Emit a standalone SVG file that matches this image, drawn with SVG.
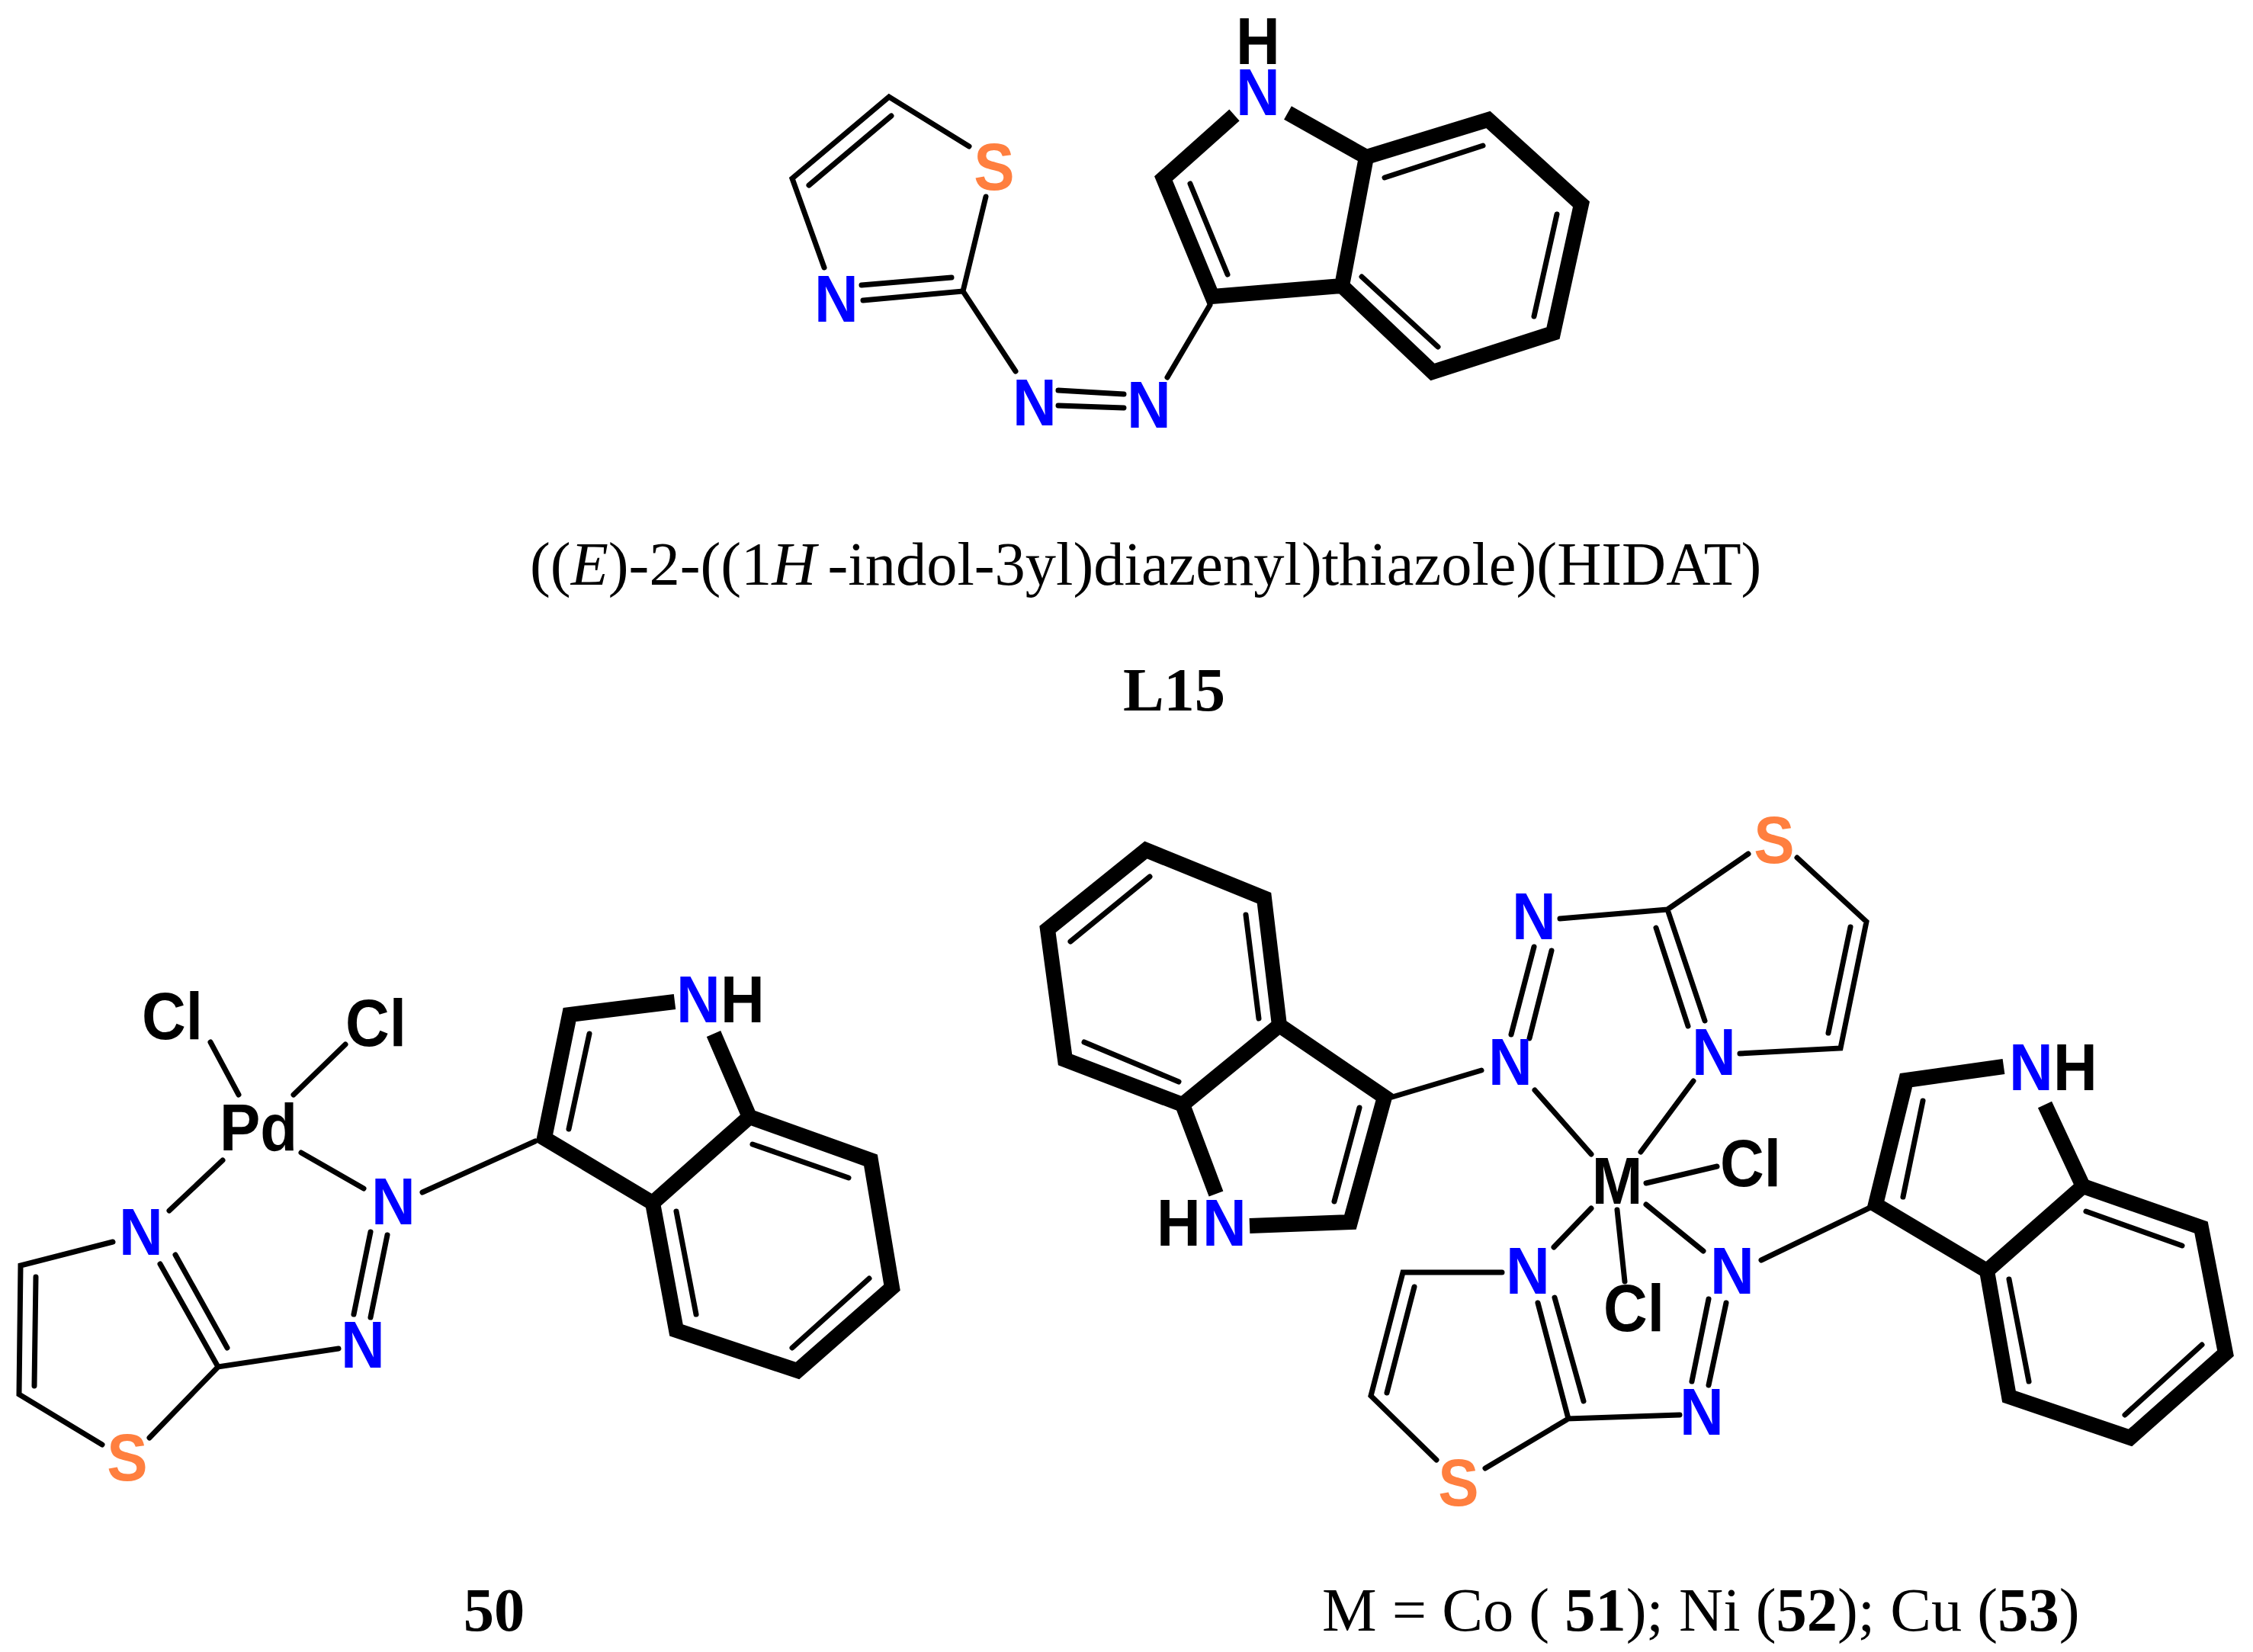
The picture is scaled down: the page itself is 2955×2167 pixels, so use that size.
<svg xmlns="http://www.w3.org/2000/svg" width="2955" height="2167" viewBox="0 0 2955 2167">
<style>
.t{fill:none;stroke:#000;stroke-width:7;stroke-linecap:round;stroke-linejoin:miter}
.k{fill:none;stroke:#000;stroke-width:20;stroke-linecap:butt;stroke-linejoin:miter}
.a{font-family:"Liberation Sans",Arial,sans-serif;font-weight:700;font-size:80px;text-anchor:middle}
.n{fill:#0000ff}.s{fill:#ff7f3f}.b{fill:#000}
.c{font-family:"Liberation Serif","Times New Roman",serif;font-size:80.5px;fill:#000}
.d{font-weight:700}
</style>
<rect width="2955" height="2167" fill="#fff"/>
<g id="molecule-L15">
<path class="t" d="M1271 192L1166 127L1039 234L1081 351M1293 258L1263 382L1132 394M1130 374L1248 364M1061 243L1169 152M1263 382L1332 487M1388 512L1474 517M1388 532L1474 535M1531 495L1587 400M1561 241L1610 360M1816 233L1945 191M2042 281L2012 415M1886 455L1786 363"/>
<path class="k" d="M1619 151L1526 234L1590 389L1760 375L1792 206L1689 148M1792 206L1952 157L2074 268L2037 437L1879 488L1760 375"/>
<text class="a s" transform="translate(1304 249) scale(1 1.08)">S</text>
<text class="a n" transform="translate(1097 422) scale(1 1.08)">N</text>
<text class="a n" transform="translate(1357 558) scale(1 1.08)">N</text>
<text class="a n" transform="translate(1507 561) scale(1 1.08)">N</text>
<text class="a n" transform="translate(1650 151) scale(1 1.08)">N</text>
<text class="a b" transform="translate(1650 84) scale(1 1.08)">H</text>
<text class="c" x="695" y="767">((<tspan font-style="italic">E</tspan>)-2-((1<tspan font-style="italic">H</tspan><tspan dx="15">-indol-3yl)diazenyl)thiazole)(HIDAT)</tspan></text>
<text class="c d" x="1540" y="932" text-anchor="middle">L15</text>
</g>
<g id="molecule-50">
<path class="t" d="M276 1367L313 1436M453 1370L385 1436M292 1522L222 1588M395 1512L477 1559M554 1564L702 1497M486 1616L464 1724M508 1620L486 1728M444 1769L286 1793L210 1658M230 1646L298 1768M286 1793L196 1886M134 1895L25 1829L27 1660L148 1629M45 1818L47 1675M773 1356L746 1481M987 1501L1113 1545M1140 1677L1039 1768M913 1724L887 1589"/>
<path class="k" d="M885 1314L747 1331L714 1493L856 1578L983 1465L936 1356M983 1465L1142 1522L1170 1689L1046 1798L887 1745L856 1578"/>
<text class="a b" transform="translate(226 1363) scale(1 1.08)">Cl</text>
<text class="a b" transform="translate(493 1372) scale(1 1.08)">Cl</text>
<text class="a b" transform="translate(339 1509) scale(1 1.08)">Pd</text>
<text class="a n" transform="translate(185 1646) scale(1 1.08)">N</text>
<text class="a n" transform="translate(516 1606) scale(1 1.08)">N</text>
<text class="a n" transform="translate(476 1794) scale(1 1.08)">N</text>
<text class="a s" transform="translate(167 1942) scale(1 1.08)">S</text>
<text class="a n" transform="translate(916 1341) scale(1 1.08)">N</text>
<text class="a b" transform="translate(974 1341) scale(1 1.08)">H</text>
<text class="c d" x="648" y="2139" text-anchor="middle">50</text>
</g>
<g id="molecule-51-53">
<path class="t" d="M2293 1120L2187 1193L2236 1339M2172 1217L2214 1346M2357 1125L2448 1209L2414 1375L2282 1382M2427 1216L2398 1355M2046 1205L2187 1193M2012 1242L1982 1357M2035 1247L2006 1362M1943 1404L1826 1439M2013 1430L2087 1514M2221 1418L2152 1511M2159 1552L2252 1530M2121 1587L2131 1681M2087 1585L2038 1636M2159 1580L2234 1641M2310 1653L2457 1582M2241 1704L2219 1812M2264 1709L2241 1817M2203 1856L2057 1861L2017 1709M2077 1838L2039 1702M2057 1861L1948 1926M1884 1915L1798 1831L1840 1669L1970 1669M1819 1827L1855 1688M1634 1200L1651 1336M1404 1235L1508 1150M1422 1367L1546 1419M1783 1453L1750 1576M2522 1444L2496 1570M2736 1589L2862 1634M2888 1764L2787 1856M2661 1812L2635 1678"/>
<path class="k" d="M1595 1566L1551 1449L1397 1390L1374 1219L1503 1115L1658 1178L1678 1345L1551 1449M1678 1345L1816 1439L1771 1603L1639 1608M2628 1399L2500 1417L2460 1580L2606 1667L2732 1556L2682 1449M2732 1556L2887 1610L2919 1775L2794 1886L2635 1832L2606 1667"/>
<text class="a s" transform="translate(2327 1132) scale(1 1.08)">S</text>
<text class="a n" transform="translate(2012 1232) scale(1 1.08)">N</text>
<text class="a n" transform="translate(1981 1423) scale(1 1.08)">N</text>
<text class="a n" transform="translate(2248 1410) scale(1 1.08)">N</text>
<text class="a b" transform="translate(2121 1579) scale(1 1.08)">M</text>
<text class="a b" transform="translate(2296 1556) scale(1 1.08)">Cl</text>
<text class="a b" transform="translate(2143 1746) scale(1 1.08)">Cl</text>
<text class="a n" transform="translate(2004 1697) scale(1 1.08)">N</text>
<text class="a n" transform="translate(2272 1697) scale(1 1.08)">N</text>
<text class="a n" transform="translate(2232 1882) scale(1 1.08)">N</text>
<text class="a s" transform="translate(1913 1975) scale(1 1.08)">S</text>
<text class="a b" transform="translate(1546 1634) scale(1 1.08)">H</text>
<text class="a n" transform="translate(1606 1634) scale(1 1.08)">N</text>
<text class="a n" transform="translate(2664 1430) scale(1 1.08)">N</text>
<text class="a b" transform="translate(2722 1430) scale(1 1.08)">H</text>
<text class="c" x="1734" y="2139">M = Co ( <tspan class="d">51</tspan>); Ni (<tspan class="d">52</tspan>); Cu (<tspan class="d">53</tspan>)</text>
</g>
</svg>
